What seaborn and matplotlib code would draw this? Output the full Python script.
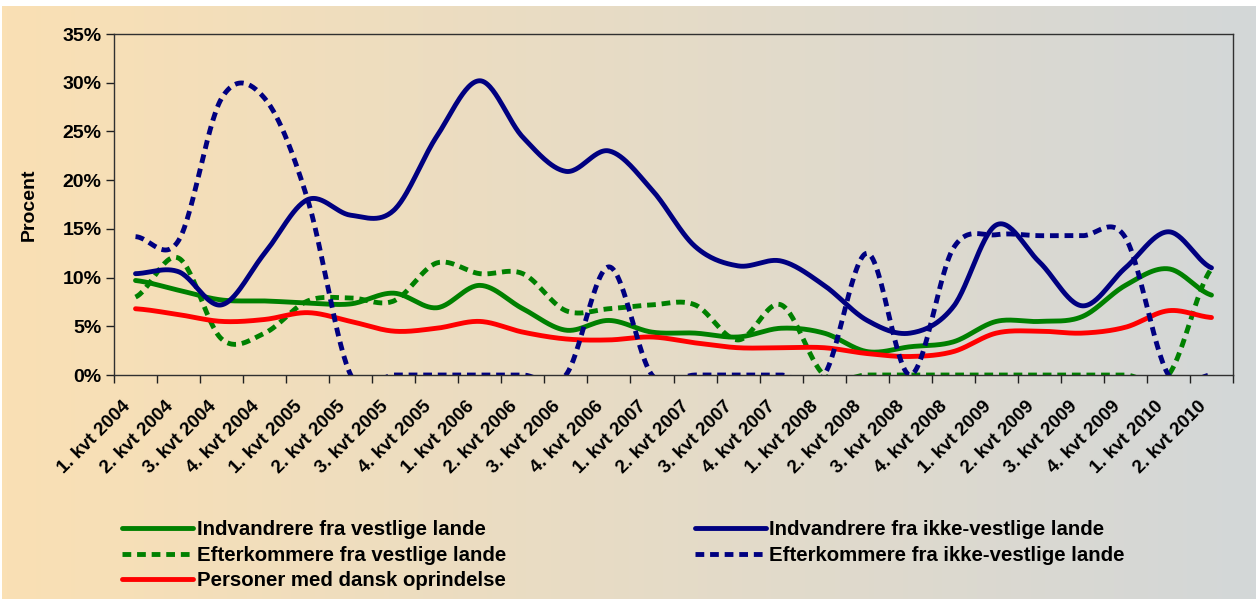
import numpy as np
import pandas as pd
import seaborn as sns
import matplotlib.pyplot as plt
from matplotlib.ticker import PercentFormatter
from matplotlib.transforms import ScaledTranslation

sns.set_style('ticks')
plt.rcParams['font.family'] = ['Liberation Sans', 'DejaVu Sans']
plt.rcParams['font.weight'] = 'bold'
plt.rcParams['text.color'] = 'black'
plt.rcParams['xtick.color'] = 'black'
plt.rcParams['ytick.color'] = 'black'
plt.rcParams['axes.labelcolor'] = 'black'

quarters = ['1. kvt 2004', '2. kvt 2004', '3. kvt 2004', '4. kvt 2004',
            '1. kvt 2005', '2. kvt 2005', '3. kvt 2005', '4. kvt 2005',
            '1. kvt 2006', '2. kvt 2006', '3. kvt 2006', '4. kvt 2006',
            '1. kvt 2007', '2. kvt 2007', '3. kvt 2007', '4. kvt 2007',
            '1. kvt 2008', '2. kvt 2008', '3. kvt 2008', '4. kvt 2008',
            '1. kvt 2009', '2. kvt 2009', '3. kvt 2009', '4. kvt 2009',
            '1. kvt 2010', '2. kvt 2010']

# percent
indv_vest = [9.7, 8.7, 7.7, 7.6, 7.4, 7.3, 8.4, 6.9, 9.2, 6.8, 4.6, 5.6, 4.4,
             4.3, 3.9, 4.8, 4.3, 2.4, 2.9, 3.4, 5.5, 5.5, 6.0, 9.2, 10.9, 8.2]
efter_vest = [8.0, 12.0, 3.7, 4.3, 7.6, 7.9, 7.6, 11.5, 10.4, 10.4, 6.6, 6.8, 7.2,
              7.2, 3.6, 7.2, 0, 0, 0, 0, 0, 0, 0, 0, 0, 10.9]
dansk = [6.8, 6.2, 5.5, 5.7, 6.4, 5.5, 4.5, 4.8, 5.5, 4.4, 3.7, 3.6, 3.9,
         3.3, 2.8, 2.8, 2.8, 2.2, 1.9, 2.4, 4.3, 4.5, 4.3, 4.9, 6.6, 5.9]
indv_ikke = [10.4, 10.6, 7.2, 12.5, 18.0, 16.4, 16.9, 24.5, 30.2, 24.4, 20.9, 23.0, 19.0,
             13.2, 11.2, 11.7, 9.2, 5.6, 4.3, 7.0, 15.4, 11.6, 7.1, 11.0, 14.7, 11.0]
efter_ikke = [14.2, 13.8, 28.4, 28.4, 18.0, 0, 0, 0, 0, 0, 0, 11.1, 0,
              0, 0, 0, 0, 12.5, 0, 13.0, 14.4, 14.3, 14.3, 14.1, 0, 0]

series = [
    ('Indvandrere fra vestlige lande', indv_vest, '#008000', '-'),
    ('Efterkommere fra vestlige lande', efter_vest, '#008000', (0, (1.8, 1.2))),
    ('Personer med dansk oprindelse', dansk, '#FF0000', '-'),
    ('Indvandrere fra ikke-vestlige lande', indv_ikke, '#000080', '-'),
    ('Efterkommere fra ikke-vestlige lande', efter_ikke, '#000080', (0, (1.8, 1.2))),
]


def smooth(y, n=30):
    # excel style smoothed line (catmull-rom bezier)
    y = np.asarray(y, float)
    p = np.concatenate([[y[0]], y, [y[-1]]])
    t = np.linspace(0, 1, n, endpoint=False)
    xs, ys = [], []
    for i in range(len(y) - 1):
        p0, p1, p2, p3 = p[i], p[i + 1], p[i + 2], p[i + 3]
        c1 = p1 + (p2 - p0) / 6
        c2 = p2 - (p3 - p1) / 6
        ys.append((1 - t)**3 * p1 + 3 * (1 - t)**2 * t * c1 + 3 * (1 - t) * t**2 * c2 + t**3 * p2)
        xs.append(i + t)
    xs.append([len(y) - 1])
    ys.append([y[-1]])
    return np.concatenate(xs) + 0.5, np.concatenate(ys)


W, H = 1256, 599
fig = plt.figure(figsize=(W / 100, H / 100), dpi=100)
fig.patch.set_facecolor('white')

bg = fig.add_axes([2 / W, 0, 1 - 2 / W, 1 - 6 / H], zorder=-10)
left = np.array([250, 224, 180]) / 255
right = np.array([211, 215, 216]) / 255
grad = np.linspace(0, 1, 256)[None, :, None]
bg.imshow(left + (right - left) * grad, aspect='auto', extent=[0, 1, 0, 1])
bg.axis('off')

ax = fig.add_axes([114 / W, 1 - 375 / H, (1233 - 114) / W, (375 - 34) / H])
ax.set_facecolor('none')

for name, vals, color, ls in series:
    xs, ys = smooth(vals)
    df = pd.DataFrame({'x': xs, 'y': ys})
    sns.lineplot(data=df, x='x', y='y', ax=ax, color=color, linewidth=3.5,
                 linestyle=ls, label=name, sort=False, estimator=None,
                 solid_capstyle='round', dash_capstyle='butt')

ax.set_xlim(0, 26)
ax.set_ylim(0, 35)
ax.set_xticks(np.arange(27))
ax.set_xticklabels([])
ax.set_xticks(np.arange(26) + 0.5, minor=True)
ax.set_xticklabels(quarters, minor=True, rotation=45, ha='right', va='center',
                   rotation_mode='anchor', fontsize=13.5, fontweight='bold')
ax.tick_params(axis='x', which='minor', length=0, pad=21)
ax.tick_params(axis='x', which='major', length=6, width=1, direction='out', color='#202020')
ax.set_yticks(np.arange(0, 36, 5))
ax.yaxis.set_major_formatter(PercentFormatter(decimals=0))
ax.tick_params(axis='y', length=6, width=1, direction='out', pad=3, labelsize=14, color='#202020')
for lab in ax.get_yticklabels():
    lab.set_fontweight('bold')
ax.set_xlabel('')
ax.set_ylabel('Procent', fontsize=14, fontweight='bold')
ax.yaxis.set_label_coords(-0.068, 0.5)
for sp in ax.spines.values():
    sp.set_visible(True)
    sp.set_color('#303030')
    sp.set_linewidth(1)

shift = ScaledTranslation(-8 / 100, 0, fig.dpi_scale_trans)
for lab in ax.get_xticklabels(minor=True):
    lab.set_transform(lab.get_transform() + shift)

handles, labels = ax.get_legend_handles_labels()
ax.get_legend().remove()
fig.legend(handles, labels, ncol=2, loc='upper left',
           bbox_to_anchor=(122 / W, 1 - 520 / H), frameon=False,
           prop={'size': 14.7, 'weight': 'bold'}, handlelength=3.5,
           handletextpad=0.15, columnspacing=9.25, labelspacing=0.33,
           borderpad=0, borderaxespad=0)

fig.savefig('out.png', dpi=100)
